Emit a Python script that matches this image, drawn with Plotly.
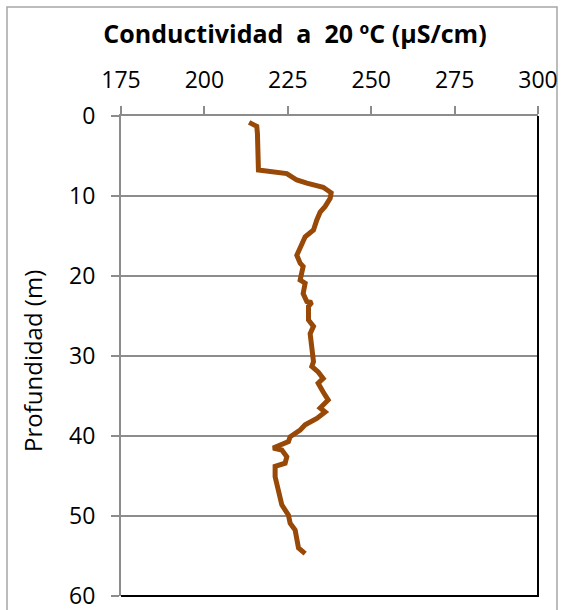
import plotly.graph_objects as go

# Conductivity (µS/cm) vs depth (m)
conductividad = [213.4, 215.7, 215.9, 216.2, 216.2, 224.7, 227.7, 230.7, 235.6, 238.0, 237.7,
                 236.2, 234.7, 233.7, 232.7, 230.2, 228.7, 227.7, 228.7, 229.6, 228.7, 230.2,
                 229.6, 230.7, 232.2, 231.2, 231.2, 232.7, 231.7, 232.2, 232.2, 232.7, 232.2,
                 234.1, 235.6, 234.1, 235.6, 237.1, 234.7, 236.2, 233.7, 230.2, 228.7, 225.7,
                 225.2, 220.6, 223.2, 224.7, 224.2, 221.2, 221.2, 222.2, 223.2, 225.2, 225.7,
                 227.2, 227.7, 228.2, 230.2]
profundidad = [0.8, 1.3, 2.2, 4.5, 6.75, 7.2, 8.0, 8.4, 8.9, 9.6, 10.3,
               11.3, 12.0, 13.0, 14.25, 15.1, 16.3, 17.4, 18.4, 18.8, 20.5, 20.9,
               22.2, 23.2, 23.3, 23.8, 25.5, 26.3, 27.2, 28.8, 29.9, 30.7, 31.3,
               32.0, 32.8, 33.4, 34.5, 35.5, 36.5, 37.0, 37.8, 38.6, 39.25, 40.1,
               40.7, 41.5, 41.75, 42.6, 43.4, 43.8, 45.1, 46.75, 48.6, 49.9, 50.9,
               51.75, 53.0, 54.0, 54.7]

x_ticks = [175, 200, 225, 250, 275, 300]
y_ticks = [0, 10, 20, 30, 40, 50, 60]

FONT = "Open Sans"
W, H = 570, 610
L, R, T, B = 121, 32, 116, 14
PW, PH = W - L - R, H - T - B

fig = go.Figure()
fig.add_trace(go.Scatter(x=conductividad, y=profundidad, mode="lines",
                         line=dict(color="#984807", width=5), showlegend=False))

fig.update_layout(
    width=W, height=H,
    margin=dict(l=L, r=R, t=T, b=B, autoexpand=False),
    paper_bgcolor="white", plot_bgcolor="white",
    font=dict(family=FONT, size=23, color="black"),
    title=dict(text="<b>Conductividad&nbsp; a&nbsp; 20 ºC (µS/cm)</b>", x=295 / W,
               xanchor="center", xref="container",
               y=1 - 34 / H, yanchor="middle", font=dict(family=FONT, size=25)),
    xaxis=dict(side="top", range=[175, 300], tickvals=x_ticks, showgrid=False,
               showline=True, linecolor="#8C8C8C", linewidth=2, automargin=False,
               ticks="outside", ticklen=8, tickcolor="#8C8C8C", tickwidth=1.5,
               ticklabelstandoff=9, ticklabeloverflow="allow",
               zeroline=False, tickfont=dict(size=23)),
    yaxis=dict(range=[60, 0], tickvals=y_ticks, showgrid=True, gridcolor="#8C8C8C",
               gridwidth=2, showline=True, linecolor="#8C8C8C", linewidth=2, automargin=False,
               ticks="outside", ticklen=8, tickcolor="#8C8C8C", tickwidth=1.5,
               ticklabelstandoff=11, ticklabeloverflow="allow",
               zeroline=False, tickfont=dict(size=23)),
    annotations=[dict(text="Profundidad (m)", textangle=-90, xref="paper", yref="paper",
                      x=(32 - L) / PW, y=(596 - 361) / PH, xanchor="center", yanchor="middle",
                      showarrow=False, font=dict(family=FONT, size=24))],
)

# right and bottom plot-area borders (black)
fig.add_shape(type="line", xref="paper", yref="paper", x0=1, x1=1, y0=-0.002, y1=1,
              line=dict(color="black", width=2), layer="above")
fig.add_shape(type="line", xref="paper", yref="paper", x0=0, x1=1.002, y0=0, y1=0,
              line=dict(color="black", width=2), layer="above")
# outer chart border
fig.add_shape(type="rect", xref="paper", yref="paper",
              x0=(7 - L) / PW, x1=(557 - L) / PW,
              y0=-(40) / PH, y1=1 + (T - 7) / PH,
              line=dict(color="#A6A6A6", width=1.5), layer="below")

fig.write_html("out.html", config={"displayModeBar": False},
               post_script="document.body.style.margin='0';document.body.style.overflow='hidden';")
